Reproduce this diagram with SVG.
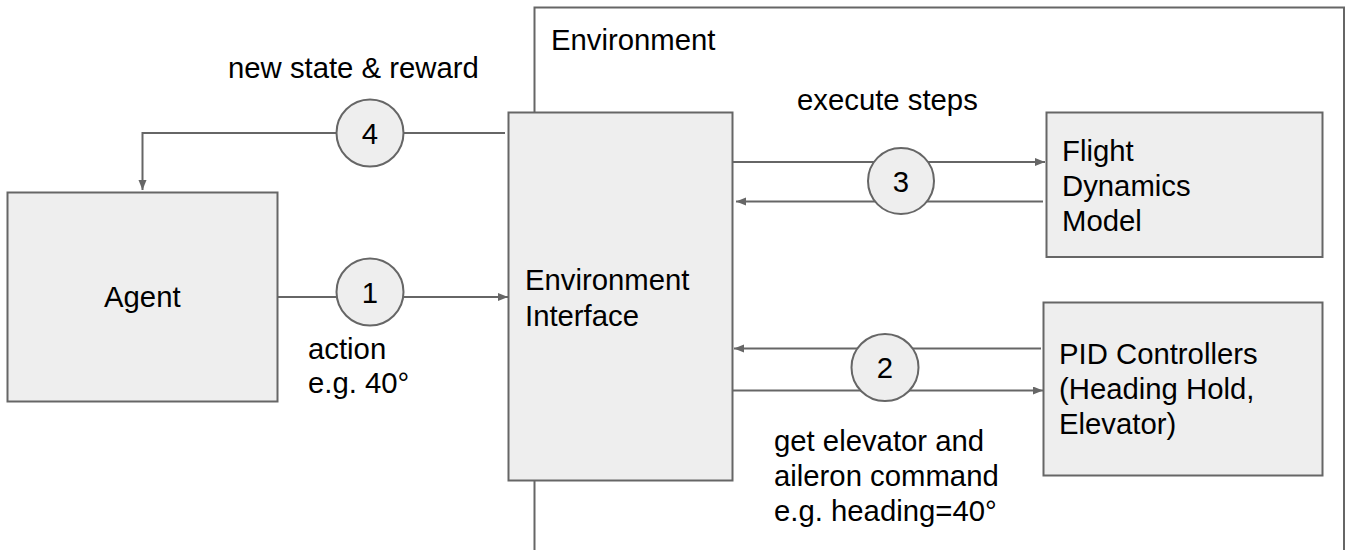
<svg xmlns="http://www.w3.org/2000/svg" width="1347" height="550" viewBox="0 0 1347 550">
  <style>
    .box { fill: #eeeeee; stroke: #666666; stroke-width: 2; }
    .env { fill: none; stroke: #666666; stroke-width: 2; }
    .step { fill: #eeeeee; stroke: #666666; stroke-width: 2; }
    .wire { fill: none; stroke: #666666; stroke-width: 2; }
    text { font-family: "Liberation Sans", Arial, sans-serif; font-size: 29.3px; fill: #000000; }
    .num { text-anchor: middle; }
  </style>
  <defs>
    <marker id="arrow" markerUnits="userSpaceOnUse" markerWidth="11" markerHeight="9" refX="10" refY="4" orient="auto">
      <path d="M0,0 L10,4 L0,8 z" fill="#666666"/>
    </marker>
  </defs>

  <rect width="1347" height="550" fill="#ffffff"/>

  <!-- Environment container -->
  <g id="environment">
    <path class="env" d="M534.5,552 V7.5 H1344 V552"/>
    <text x="551" y="50">Environment</text>
  </g>

  <!-- Connectors -->
  <g id="connectors">
    <!-- 4: new state & reward back to the agent -->
    <path class="wire" d="M505,133 H142.5 V190" marker-end="url(#arrow)"/>
    <!-- 1: action into the interface -->
    <path class="wire" d="M277.5,297 H508" marker-end="url(#arrow)"/>
    <!-- 3: execute steps on the flight dynamics model -->
    <path class="wire" d="M732.5,162 H1045" marker-end="url(#arrow)"/>
    <path class="wire" d="M1043,201.5 H736" marker-end="url(#arrow)"/>
    <!-- 2: PID controller commands -->
    <path class="wire" d="M1041,348.5 H734" marker-end="url(#arrow)"/>
    <path class="wire" d="M732.5,390.5 H1043" marker-end="url(#arrow)"/>
  </g>

  <g id="agent">
    <rect class="box" x="7.5" y="192.5" width="270" height="209"/>
    <text x="104" y="307">Agent</text>
  </g>

  <g id="environment-interface">
    <rect class="box" x="508.5" y="112.5" width="224" height="368"/>
    <text x="525" y="290">Environment</text>
    <text x="525" y="326">Interface</text>
  </g>

  <g id="flight-dynamics-model">
    <rect class="box" x="1046.5" y="112.5" width="276" height="144.5"/>
    <text x="1062" y="161">Flight</text>
    <text x="1062" y="196">Dynamics</text>
    <text x="1062" y="231">Model</text>
  </g>

  <g id="pid-controllers">
    <rect class="box" x="1043.5" y="302.5" width="279" height="173"/>
    <text x="1059" y="364">PID Controllers</text>
    <text x="1059" y="399">(Heading Hold,</text>
    <text x="1059" y="434">Elevator)</text>
  </g>

  <!-- Numbered step markers -->
  <g id="step-4">
    <circle class="step" cx="370" cy="133" r="33.5"/>
    <text class="num" x="370" y="143.5">4</text>
  </g>
  <g id="step-1">
    <circle class="step" cx="370" cy="292" r="33.5"/>
    <text class="num" x="370" y="302.5">1</text>
  </g>
  <g id="step-3">
    <circle class="step" cx="901" cy="181" r="33"/>
    <text class="num" x="901" y="191.5">3</text>
  </g>
  <g id="step-2">
    <circle class="step" cx="885" cy="367.5" r="33.5"/>
    <text class="num" x="885" y="378">2</text>
  </g>

  <!-- Connector labels -->
  <g id="labels">
    <text x="228" y="78">new state &amp; reward</text>
    <text x="797" y="110">execute steps</text>
    <text x="308" y="359">action</text>
    <text x="308" y="393">e.g. 40°</text>
    <text x="774" y="451">get elevator and</text>
    <text x="774" y="486">aileron command</text>
    <text x="774" y="521">e.g. heading=40°</text>
  </g>
</svg>
